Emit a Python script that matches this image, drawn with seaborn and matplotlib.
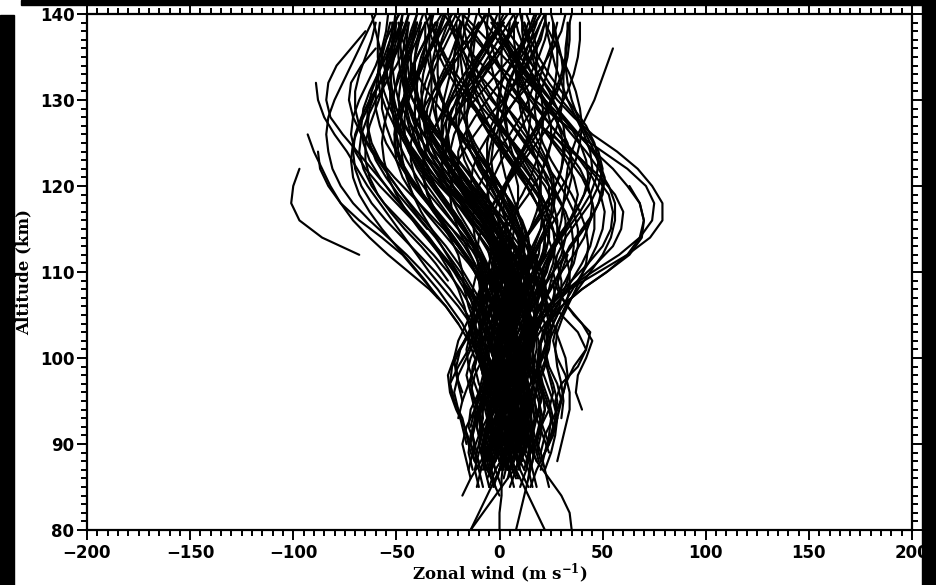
import numpy as np
import pandas as pd
import matplotlib
matplotlib.use("Agg")
import matplotlib.pyplot as plt
import seaborn as sns
from matplotlib.patches import Rectangle

# ---------------- data ----------------
ALT_STEP = 2  # km between samples of each profile
X_TICKS = [-200, -150, -100, -50, 0, 50, 100, 150, 200]
Y_TICKS = [80, 90, 100, 110, 120, 130, 140]

# starting altitude (km) of each zonal-wind profile
PROFILE_START = [
    96, 90, 88, 88, 90, 85, 87, 88, 86, 87,
    94, 85, 112, 104, 100, 104, 100, 100, 98, 96,
    88, 87, 90, 85, 88, 86, 87, 84, 85, 88,
    88, 87, 85, 86, 87, 85, 88, 86, 87, 85,
    86, 87, 88, 85, 80, 80, 80, 80, 80, 84,
    80, 88, 87, 90, 88, 88, 85, 88, 90, 87,
    90, 88, 86, 88,
    87, 85, 89, 87, 91, 85, 87, 89, 85, 87,
    89, 91, 85, 87, 89, 93, 87, 89, 85, 87,
    91, 87, 89, 85, 93, 87, 89, 95, 87, 91,
    85, 89, 107, 109, 115, 111, 117, 105,
    88, 90, 87, 89, 91, 88, 86, 92, 89, 90,
    87, 93, 88, 91, 89,
    89, 87, 90, 88, 86, 91, 87, 89, 92, 88,
    90, 86, 93, 88, 91, 87, 89, 90, 86, 92,
    88, 90, 87, 89, 95, 88, 91, 86, 89, 90,
    90, 88, 92, 89, 87, 91, 88, 90, 93, 89,
    96, 94, 100, 102, 104,
    88, 90, 89, 91, 87, 92, 88, 90, 89, 91,
    93, 88, 90, 87, 92, 89, 91, 88, 90, 94,
]

# zonal wind (m/s) of each profile, every ALT_STEP km from its start
PROFILE_WIND = [
    [8, 10, 12, 15, 19, 26, 34, 48, 62, 73, 79, 79, 74, 67, 57, 45, 36, 28, 22, 16, 12, 9, 7],
    [5, 3, 6, 10, 8, 6, 10, 16, 24, 33, 45, 58, 68, 74, 75, 71, 62, 50, 38, 27, 17, 8, 0, -8, -15, -22],
    [10, 12, 14, 12, 15, 18, 20, 20, 24, 30, 40, 52, 62, 68, 70, 68, 62, 55, 46, 38, 30, 22, 14, 6, -2, -10, -18],
    [0, -3, 2, 8, 12, 14, 13, 17, 22, 30, 40, 52, 63, 69, 70, 68, 63],
    [8, 6, 4, 2, 5, 8, 10, 12, 15, 18, 22, 25, 28, 30, 31, 32, 33, 35, 38, 42, 46, 49, 52, 55],
    [-5, -2, 3, 5, 2, 0, 3, 8, 12, 15, 20, 27, 35, 43, 50, 54, 55, 53, 47, 40, 32, 25, 18, 12, 8, 5, 4, 5],
    [12, 8, 5, 8, 12, 14, 12, 10, 14, 20, 28, 38, 47, 55, 59, 60, 56, 49, 40, 30, 20, 12, 4, -4, -12, -18, -24, -30],
    [-2, 0, 4, 6, 5, 4, 6, 9, 12, 16, 20, 26, 32, 38, 44, 48, 50, 49, 46, 42, 38, 35, 33, 32, 32, 33, 35],
    [6, 3, 0, -2, 0, 4, 8, 10, 8, 8, 11, 14, 18, 23, 28, 34, 39, 43, 45, 44, 41, 37, 33, 30, 27, 25, 23, 22],
    [20, 22, 25, 28, 30, 32, 36, 42, 44, 36, 30, 28, 30, 34, 40, 46, 50, 51, 48, 42, 35, 28, 22, 16, 10, 4, -2, -8],
    [40, 37, 38, 42, 45, 40, 33, 28, 26, 28, 32, 38, 44, 48, 50, 48, 43, 37, 30, 24, 19, 15, 12, 10],
    [15, 18, 22, 26, 28, 27, 30, 38, 42, 38, 30, 24, 20, 22, 26, 32, 36, 38, 36, 32, 26, 20, 14, 8, 2, -4, -10, -16],
    [-68, -86, -97, -101, -100, -97],
    [-20, -26, -34, -44, -54, -63, -71, -77, -82, -86, -90, -93],
    [-5, -8, -14, -20, -27, -34, -40, -46, -52, -58, -64, -69, -74, -80, -85, -88, -89],
    [-8, -12, -17, -22, -28, -34, -41, -48, -55, -62, -69, -76, -82, -84, -83, -79, -72, -65],
    [2, 0, -4, -9, -14, -19, -25, -31, -38, -44, -50, -56, -62, -67, -71, -73, -72, -67, -60],
    [-12, -15, -20, -26, -33, -40, -47, -57, -68, -77, -83, -87, -88],
    [-8, -10, -14, -18, -24, -30, -37, -45, -54, -63, -71, -77, -81, -83, -84, -83, -80, -76, -72, -68, -64, -60],
    [-2, -5, -8, -10, -13, -18, -24, -31, -39, -47, -55, -62, -67, -70, -71, -70, -67, -63, -58, -53, -49, -46, -44],
    [-5, -8, -6, -2, 0, -3, -6, -8, -10, -14, -19, -25, -32, -40, -48, -56, -62, -66, -68, -67, -64, -60, -55, -50, -46, -42, -40],
    [2, 0, -3, -5, -3, 1, 2, 0, -3, -6, -10, -15, -20, -26, -33, -40, -47, -53, -58, -62, -64, -64, -62, -59, -56, -53, -51, -50],
    [-12, -15, -14, -10, -8, -10, -13, -15, -17, -20, -24, -29, -35, -42, -50, -58, -65, -70, -72, -71, -68, -64, -60, -57, -55, -54],
    [-8, -10, -14, -16, -18, -22, -24, -20, -15, -12, -12, -14, -18, -23, -28, -33, -38, -42, -45, -47, -48, -48, -47, -46, -46, -47, -49, -52],
    [-10, -14, -17, -21, -24, -25, -22, -17, -12, -8, -6, -7, -10, -14, -19, -25, -31, -37, -42, -46, -48, -49, -48, -46, -43, -40, -37],
    [4, 6, 5, 2, 0, 2, 5, 6, 4, 2, 0, -2, -5, -9, -14, -20, -26, -32, -38, -43, -47, -50, -52, -54, -56, -58, -60, -62],
    [8, 10, 12, 10, 8, 6, 8, 10, 8, 6, 5, 4, 2, -1, -5, -10, -16, -22, -28, -34, -39, -43, -46, -48, -49, -49, -48, -46],
    [0, -4, -6, -4, 0, 4, 6, 4, 2, 3, 5, 6, 6, 5, 3, 0, -4, -9, -15, -21, -27, -33, -38, -42, -45, -47, -48, -48, -47],
    [-2, -4, -2, 2, 6, 8, 6, 3, 1, 0, -2, -5, -9, -14, -20, -26, -31, -35, -37, -37, -35, -31, -26, -20, -14, -8, -3, 2],
    [10, 12, 8, 4, 2, 4, 8, 12, 14, 12, 8, 4, 0, -5, -11, -17, -23, -28, -32, -34, -34, -32, -28, -23, -17, -11, -6, -2],
    [-12, -10, -8, -10, -14, -16, -14, -10, -6, -4, -6, -10, -16, -22, -28, -33, -36, -37, -36, -33, -29, -25, -22, -20, -20, -22, -25],
    [0, 2, 4, 6, 4, 0, -4, -6, -4, 0, 4, 6, 6, 4, 0, -5, -11, -17, -22, -25, -26, -25, -22, -17, -11, -5, 1, 7],
    [14, 10, 8, 10, 14, 16, 14, 10, 8, 8, 10, 12, 12, 10, 7, 4, 2, 2, 4, 8, 13, 18, 23, 27, 30, 32, 33, 33],
    [-6, -2, 2, 4, 2, -2, -4, -2, 2, 6, 8, 8, 6, 2, -3, -8, -12, -14, -13, -10, -5, 1, 8, 15, 21, 26, 30, 32],
    [4, 0, -4, -6, -4, 0, 4, 6, 4, 0, -4, -8, -12, -16, -20, -23, -24, -23, -20, -15, -9, -2, 5, 11, 16, 20, 22, 23],
    [18, 16, 14, 15, 18, 20, 18, 15, 12, 12, 14, 16, 17, 16, 13, 9, 4, 0, -3, -4, -3, 0, 5, 10, 15, 19, 22, 24],
    [6, 8, 10, 8, 5, 4, 6, 9, 12, 14, 15, 14, 12, 9, 5, 0, -5, -10, -14, -16, -16, -14, -10, -5, 0, 5, 9, 12],
    [-4, -8, -10, -8, -4, -2, -4, -8, -10, -8, -4, 0, 3, 5, 5, 3, 0, -4, -9, -14, -19, -24, -28, -31, -33, -34, -34, -33],
    [8, 4, 2, 4, 8, 10, 10, 8, 6, 6, 8, 10, 12, 12, 10, 6, 1, -5, -11, -17, -22, -26, -29, -30, -30, -28, -25, -21],
    [-10, -12, -10, -6, -4, -6, -10, -12, -10, -6, -2, 2, 4, 4, 2, -2, -8, -14, -20, -26, -31, -35, -38, -40, -41, -41, -40, -38],
    [2, 4, 6, 8, 10, 12, 12, 10, 10, 12, 16, 21, 26, 30, 32, 32, 30, 26, 21, 15, 9, 3, -3, -8, -12, -15, -17, -18],
    [12, 14, 16, 18, 20, 18, 16, 16, 18, 22, 27, 32, 36, 38, 38, 36, 32, 27, 21, 15, 9, 4, 0, -3, -5, -6, -6, -5],
    [20, 18, 20, 24, 26, 24, 22, 24, 28, 32, 34, 34, 32, 28, 23, 18, 13, 9, 6, 4, 3, 3, 5, 8, 11, 14, 17],
    [24, 22, 20, 22, 26, 30, 28, 24, 22, 24, 28, 30, 30, 28, 25, 22, 20, 19, 20, 22, 25, 28, 30, 31, 31, 30, 28, 26],
    [-14, -10, -6, -2, 2, 4, 4, 2, 0, 2, 4, 4, 2, 0, -3, -6, -10, -15, -20, -26, -31, -35, -38, -40, -41, -41, -40, -38, -36, -34, -32],
    [0, 0, 1, 1, 2, 4, 6, 6, 4, 2, 2, 4, 6, 8, 8, 6, 3, 0, -3, -5, -6, -6, -5, -3, -1, 0, 1, 1, 1, 0, 0],
    [22, 18, 14, 10, 6, 4, 6, 10, 12, 10, 6, 4, 6, 10, 14, 18, 22, 24, 24, 22, 18, 12, 5, -2, -9, -16, -22, -27, -31, -34, -36],
    [35, 34, 30, 24, 18, 14, 12, 14, 16, 16, 14, 12, 12, 14, 18, 22, 26, 28, 28, 26, 22, 16, 10, 4, -2, -7, -11, -13, -14, -13, -11],
    [-14, -8, -2, 4, 10, 14, 16, 15, 12, 10, 10, 12, 14, 14, 12, 8, 3, -3, -9, -15, -20, -24, -27, -28, -28, -27, -25, -23, -21, -19, -17],
    [-18, -14, -9, -5, -3, -4, -6, -5, -2, 2, 5, 6, 5, 2, -2, -7, -13, -19, -25, -30, -34, -36, -37, -36, -34, -31, -27, -23, -19],
    [8, 10, 12, 14, 15, 14, 11, 8, 6, 8, 12, 16, 18, 18, 16, 12, 6, 0, -6, -12, -17, -21, -24, -25, -24, -21, -17, -12, -7, -2, 2],
    [0, -2, -4, -6, -8, -6, -3, 0, 2, 2, 0, -4, -9, -15, -21, -27, -33, -39, -44, -48, -51, -53, -53, -52, -50, -47, -44],
    [-6, -8, -6, -2, 2, 4, 2, -2, -6, -8, -8, -8, -10, -13, -17, -22, -28, -34, -40, -46, -51, -55, -58, -59, -58, -55, -51, -46],
    [2, 0, -2, -4, -2, 2, 6, 8, 6, 2, -4, -11, -19, -27, -35, -42, -47, -50, -51, -50, -47, -43, -38, -33, -28, -23],
    [14, 10, 6, 4, 6, 10, 14, 16, 14, 10, 6, 2, -3, -9, -15, -21, -27, -32, -36, -38, -39, -38, -36, -33, -29, -25, -21],
    [-8, -4, 0, 2, 0, -4, -8, -10, -8, -4, 0, 2, 2, 0, -4, -10, -17, -24, -31, -37, -42, -45, -46, -45, -42, -38, -33],
    [16, 14, 10, 6, 6, 8, 12, 16, 18, 18, 15, 11, 6, 1, -3, -6, -7, -6, -3, 1, 6, 11, 16, 20, 23, 25, 26, 26],
    [4, 8, 12, 14, 12, 8, 4, 2, 4, 8, 13, 18, 22, 24, 24, 22, 18, 13, 8, 4, 2, 2, 4, 8, 13, 18, 22],
    [-4, -8, -12, -14, -12, -8, -4, -2, -2, -4, -7, -10, -12, -13, -12, -10, -6, -1, 5, 10, 14, 17, 18, 18, 16, 13],
    [0, 6, 10, 12, 10, 6, 2, 0, 2, 6, 11, 16, 20, 22, 22, 20, 16, 11, 5, -1, -7, -12, -16, -18, -19, -18, -16, -13],
    [-16, -18, -20, -22, -20, -16, -12, -8, -6, -6, -8, -12, -17, -23, -29, -35, -40, -44, -46, -46, -44, -41, -37, -33, -29, -26],
    [20, 24, 26, 24, 20, 18, 20, 24, 26, 24, 20, 14],
    [-14, -16, -18, -16, -12, -8, -6, -8, -12, -14, -12, -8, -4, -2],
    [28, 30, 32, 34, 34, 32, 28, 26, 28, 32, 38, 44, 50, 54, 56, 56, 53, 48, 42, 35, 28, 22, 17, 14, 12, 11, 11],
    # second batch
    [3, 6, 9, 11, 10, 7, 4, 3, 5, 8, 10, 9, 6, 1, -5, -12, -19, -26, -32, -37, -41, -44, -46, -47, -47, -46, -44],
    [-3, 0, 4, 7, 8, 6, 2, -2, -4, -3, 0, 3, 4, 2, -2, -8, -15, -22, -29, -35, -40, -43, -45, -45, -43, -40, -36, -31],
    [12, 15, 17, 16, 13, 10, 9, 11, 14, 16, 15, 12, 7, 1, -6, -13, -20, -26, -31, -35, -37, -38, -37, -35, -32, -28],
    [-9, -12, -13, -11, -7, -3, 0, 1, -1, -4, -7, -10, -14, -19, -25, -31, -37, -43, -48, -52, -55, -57, -57, -56, -54, -51, -47],
    [6, 3, 1, 2, 5, 9, 12, 13, 11, 8, 4, -1, -7, -14, -21, -28, -35, -41, -46, -50, -52, -53, -52, -50, -47],
    [10, 13, 15, 14, 11, 8, 7, 9, 13, 17, 20, 21, 19, 15, 10, 4, -2, -8, -13, -17, -19, -20, -19, -17, -13, -8, -3, 2],
    [-2, -5, -7, -6, -3, 1, 4, 5, 3, 0, -3, -5, -5, -3, 1, 6, 11, 15, 18, 20, 21, 21, 20, 18, 16, 14, 12],
    [18, 20, 21, 19, 16, 14, 15, 18, 21, 23, 22, 19, 15, 10, 5, 0, -4, -6, -6, -4, 0, 5, 10, 15, 19, 22],
    [1, -2, -4, -3, 1, 5, 8, 9, 7, 4, 2, 2, 4, 7, 11, 15, 18, 20, 20, 18, 15, 12, 10, 9, 10, 12, 15, 18],
    [-13, -15, -14, -11, -8, -7, -9, -12, -14, -13, -9, -5, -1, 1, 1, -2, -7, -13, -20, -27, -33, -38, -41, -43, -43, -42, -40],
    [8, 11, 12, 10, 7, 5, 6, 9, 12, 15, 18, 22, 27, 33, 39, 44, 47, 48, 46, 42, 36, 30, 24, 19, 15, 12],
    [25, 27, 28, 26, 23, 22, 24, 28, 33, 38, 43, 47, 50, 51, 49, 45, 39, 32, 25, 19, 14, 10, 8, 7, 7],
    [5, 8, 10, 9, 6, 3, 1, 2, 5, 9, 14, 19, 23, 26, 27, 26, 23, 18, 12, 6, 0, -5, -9, -12, -13, -13, -12, -10],
    [-6, -3, 0, 1, -1, -4, -6, -5, -2, 2, 5, 6, 4, 0, -5, -11, -17, -22, -26, -28, -28, -26, -22, -17, -11, -5, 1],
    [-1, 2, 5, 6, 4, 1, -2, -3, -1, 3, 7, 10, 11, 10, 7, 3, -2, -7, -12, -16, -19, -21, -22, -22, -21, -19],
    [-20, -18, -15, -12, -10, -9, -10, -13, -18, -24, -31, -38, -45, -52, -58, -63, -66, -67, -66, -63, -59, -55, -51, -48],
    [15, 17, 16, 13, 10, 8, 9, 12, 15, 17, 17, 15, 11, 6, 0, -6, -12, -18, -23, -27, -30, -32, -33, -33, -32, -30, -28],
    [-7, -9, -10, -8, -5, -2, 0, 0, -2, -5, -9, -14, -20, -26, -32, -37, -41, -43, -43, -41, -37, -32, -26, -20, -14, -9],
    [7, 5, 2, 0, 1, 4, 8, 11, 12, 11, 8, 5, 2, 0, -1, -1, 0, 2, 5, 9, 14, 19, 24, 28, 31, 33, 34, 34],
    [22, 25, 27, 28, 26, 23, 20, 19, 21, 25, 30, 35, 40, 44, 46, 46, 44, 40, 34, 27, 20, 13, 7, 2, -2, -5, -7],
    [-3, -6, -8, -7, -4, 0, 3, 4, 2, -2, -7, -13, -20, -27, -34, -40, -45, -49, -51, -52, -51, -49, -46, -43, -40],
    [4, 2, 0, 0, 2, 5, 7, 7, 5, 2, -1, -3, -3, -1, 3, 8, 14, 19, 23, 25, 25, 23, 19, 14, 8, 2, -4],
    [11, 9, 7, 7, 9, 12, 14, 14, 12, 9, 6, 3, 0, -4, -9, -15, -21, -27, -32, -36, -39, -40, -40, -38, -35, -31],
    [-11, -9, -7, -7, -9, -12, -14, -13, -10, -6, -3, -2, -3, -6, -10, -15, -20, -24, -27, -28, -27, -24, -19, -13, -7, -1, 4, 8],
    [30, 31, 30, 28, 27, 28, 31, 35, 39, 42, 43, 42, 39, 35, 30, 25, 21, 18, 17, 18, 20, 23, 26, 28],
    [9, 12, 14, 15, 13, 10, 6, 4, 4, 6, 9, 12, 14, 14, 12, 8, 3, -3, -9, -15, -21, -26, -30, -33, -35, -36, -36],
    [-4, -1, 2, 3, 1, -3, -7, -9, -8, -5, -1, 3, 6, 7, 6, 3, -2, -8, -15, -22, -29, -35, -40, -44, -47, -49],
    [-22, -24, -23, -19, -14, -10, -8, -9, -12, -17, -23, -30, -37, -44, -50, -55, -58, -60, -60, -59, -57, -55, -53],
    [0, 3, 6, 8, 8, 6, 3, 1, 1, 3, 6, 9, 11, 12, 11, 9, 6, 3, 1, 0, 0, 2, 5, 9, 13, 17, 20],
    [16, 13, 10, 9, 10, 13, 17, 20, 21, 20, 17, 13, 8, 2, -4, -10, -15, -19, -21, -21, -19, -15, -10, -4, 2],
    [-5, -7, -8, -7, -5, -4, -5, -8, -11, -13, -13, -11, -8, -5, -3, -3, -5, -9, -14, -20, -26, -32, -37, -41, -44, -45, -45, -44],
    [3, 6, 8, 9, 8, 5, 2, 0, 1, 4, 8, 13, 18, 22, 25, 26, 25, 22, 17, 11, 4, -3, -10, -16, -21, -25],
    [-30, -36, -43, -50, -57, -63, -68, -71, -72, -71, -68, -64, -60, -56, -53, -51, -50],
    [-25, -31, -38, -46, -53, -59, -63, -65, -65, -63, -60, -57, -55, -53, -52, -52],
    [-35, -42, -49, -55, -60, -63, -64, -63, -60, -56, -52, -48, -45],
    [5, 10, 16, 22, 28, 33, 37, 39, 40, 39, 37, 34, 30, 26, 22],
    [-5, 0, 6, 12, 18, 24, 29, 33, 36, 38, 39, 39],
    [8, 5, 2, -2, -7, -12, -17, -21, -24, -26, -26, -24, -20, -15, -9, -3, 3, 9],
    # third batch: short profiles inside the dense core
    [2, 5, 8, 7, 3, -1, -3, -1, 3, 6, 8, 7, 4, 0],
    [-6, -3, 0, 2, 1, -2, -5, -6, -4, 0, 4, 7],
    [10, 7, 5, 6, 9, 12, 13, 11, 8, 6, 7, 10, 14],
    [15, 18, 20, 19, 16, 13, 12, 14, 17, 19, 18],
    [-10, -12, -11, -8, -4, -1, 0, -2, -5, -8, -10],
    [6, 9, 11, 13, 12, 9, 6, 4, 5, 8, 12, 16, 19, 20],
    [-3, -5, -4, 0, 4, 7, 8, 6, 3, 1, 2, 5],
    [20, 22, 21, 18, 15, 14, 16, 20, 24, 26],
    [0, -3, -5, -4, -1, 3, 6, 7, 5, 2, -1, -4, -6],
    [12, 14, 13, 10, 7, 5, 6, 9, 13, 16, 18, 18],
    [-8, -6, -3, -1, -2, -5, -8, -10, -9, -6, -2, 1],
    [4, 8, 11, 12, 10, 6, 3, 2, 4, 8],
    [18, 15, 12, 11, 13, 17, 21, 23, 22, 19, 15, 12],
    [-2, 1, 3, 2, -1, -4, -5, -3, 1, 5, 8],
    [8, 5, 2, 1, 3, 7, 10, 11, 9, 6, 4, 5, 8],
    # fourth batch: full-height profiles
    [5, 8, 10, 8, 4, 1, 2, 5, 9, 12, 12, 9, 4, -2, -9, -17, -24, -30, -34, -36, -35, -32, -28, -24, -21, -19],
    [-5, -2, 1, 2, 0, -3, -4, -2, 2, 6, 9, 10, 8, 4, -2, -9, -16, -22, -26, -28, -27, -23, -17, -10, -3, 3, 8],
    [13, 11, 9, 10, 13, 16, 17, 15, 12, 10, 11, 14, 18, 22, 24, 24, 21, 16, 10, 3, -4, -10, -15, -18, -19],
    [0, 3, 5, 4, 1, -2, -3, -1, 3, 7, 9, 8, 5, 0, -6, -13, -20, -27, -34, -40, -45, -49, -51, -52, -52, -51],
    [9, 6, 4, 5, 8, 11, 12, 10, 7, 5, 5, 7, 9, 10, 9, 6, 2, -3, -8, -12, -15, -16, -15, -12, -8, -3, 2, 7],
    [-8, -10, -9, -6, -2, 1, 2, 0, -4, -9, -15, -22, -29, -36, -42, -47, -50, -51, -50, -47, -43, -39, -35, -32, -30],
    [3, 1, -1, -1, 2, 5, 8, 9, 7, 4, 2, 3, 6, 10, 15, 20, 25, 29, 31, 32, 31, 28, 24, 19, 13, 7, 1],
    [20, 17, 15, 16, 19, 22, 23, 21, 17, 14, 13, 15, 19, 24, 29, 33, 35, 35, 33, 29, 24, 18, 12, 6, 1, -3],
    [-14, -12, -9, -7, -7, -9, -12, -15, -17, -18, -20, -24, -29, -35, -41, -46, -49, -50, -49, -46, -42, -38, -34, -30, -27],
    [7, 10, 12, 12, 9, 5, 2, 1, 3, 7, 11, 14, 15, 14, 11, 6, 0, -6, -11, -15, -17, -17, -15, -12, -8, -4, -1],
    [-1, -4, -6, -5, -2, 2, 5, 6, 4, 1, -2, -4, -5, -4, -1, 3, 8, 13, 18, 22, 25, 27, 28, 28, 27, 25],
    [14, 16, 17, 15, 12, 9, 8, 10, 13, 15, 14, 11, 6, 0, -7, -14, -21, -28, -34, -39, -43, -45, -46, -45, -42, -38, -33, -28],
    [26, 24, 21, 19, 19, 22, 26, 30, 33, 35, 36, 35, 32, 27, 21, 14, 7, 0, -6, -11, -15, -18, -20, -21],
    [-4, -7, -9, -8, -5, -1, 2, 3, 1, -3, -7, -10, -11, -10, -7, -3, 2, 7, 11, 14, 15, 14, 11, 7, 2, -4, -10],
    [9, 12, 14, 13, 10, 6, 3, 2, 4, 8, 13, 17, 20, 21, 20, 17, 12, 6, -1, -8, -15, -21, -26, -30, -33],
    [1, 4, 7, 8, 6, 3, 0, -1, 1, 4, 6, 6, 3, -2, -8, -15, -23, -31, -38, -44, -49, -53, -56, -58, -59, -59, -58],
    [-9, -7, -4, -2, -2, -5, -8, -10, -9, -6, -2, 1, 2, 0, -4, -10, -16, -22, -27, -30, -31, -30, -27, -22, -16, -10],
    [17, 20, 22, 21, 18, 15, 14, 16, 20, 25, 29, 31, 30, 27, 22, 16, 10, 5, 1, -1, -1, 1, 5, 10, 15, 20],
    [-1, 1, 3, 3, 1, -2, -4, -3, 0, 4, 7, 8, 6, 2, -3, -9, -14, -18, -20, -20, -17, -12, -6, 0, 6, 11, 15, 18],
    [5, 2, -1, -2, 0, 4, 8, 10, 9, 6, 2, -3, -9, -16, -23, -30, -37, -43, -48, -52, -54, -55, -54, -52, -49],
    [11, 8, 6, 6, 9, 12, 14, 13, 10, 7, 5, 6, 9, 13, 18, 23, 27, 30, 31, 30, 27, 22, 16, 10, 4, -1, -5],
    [-5, -2, 1, 2, 0, -3, -6, -7, -5, -1, 3, 5, 4, 1, -4, -10, -17, -24, -31, -37, -42, -45, -46, -45, -43, -40],
    [6, 8, 9, 8, 6, 4, 4, 6, 9, 12, 14, 14, 12, 8, 3, -3, -10, -17, -24, -30, -35, -39, -41, -42, -41, -39, -36],
    [24, 21, 18, 17, 18, 21, 24, 25, 24, 22, 21, 23, 27, 32, 37, 41, 43, 42, 39, 34, 28, 21, 14, 8, 3, -1],
    [-18, -20, -21, -19, -15, -11, -9, -10, -14, -20, -27, -35, -43, -51, -58, -64, -68, -70, -70, -68, -65, -62, -60],
    [-2, 0, 2, 2, 0, -2, -3, -1, 2, 5, 6, 5, 2, -3, -9, -15, -20, -23, -24, -22, -18, -12, -5, 2, 9, 15, 20],
    [3, 6, 8, 8, 5, 2, 0, 1, 4, 9, 14, 19, 23, 26, 27, 26, 23, 19, 15, 11, 9, 8, 9, 11, 14],
    [8, 5, 3, 3, 6, 9, 11, 11, 8, 4, 1, -1, -1, 1, 4, 7, 9, 9, 7, 3, -2, -8, -14, -20, -25, -29, -32, -34],
    [-11, -13, -12, -9, -5, -2, -1, -3, -7, -12, -18, -25, -32, -39, -45, -50, -54, -56, -57, -56, -54, -51, -48, -45, -42, -40],
    [10, 13, 15, 14, 11, 8, 6, 7, 10, 14, 18, 21, 22, 21, 18, 13, 7, 1, -5, -10, -14, -16, -16, -14, -11, -7],
    # fifth batch: more of the dense core
    [3, 0, -2, -1, 2, 5, 6, 4, 1, -2, -3, -1, 3],
    [14, 16, 15, 12, 9, 8, 10, 13, 15, 14, 11, 8],
    [-4, -6, -7, -5, -2, 1, 2, 0, -3, -5],
    [22, 24, 25, 23, 20, 18, 19, 22, 25, 27, 26],
    [5, 3, 2, 4, 7, 9, 8, 5, 2, 1, 3, 6, 9, 11],
    [9, 12, 14, 13, 10, 7, 6, 8, 11, 13, 12, 9],
    [-12, -14, -13, -10, -6, -3, -2, -4, -7, -9, -8, -5],
    [1, 4, 6, 5, 2, -1, -2, 0, 4, 8, 11, 12, 10],
    [17, 15, 12, 10, 11, 14, 17, 19, 18, 15],
    [-3, -1, 2, 4, 3, 0, -3, -4, -2, 2, 5, 6, 4],
    [-18, -21, -22, -20, -16, -12, -9, -8, -10, -14, -19],
    [28, 31, 33, 32, 29, 26, 25, 27, 30, 33],
    [10, 14, 18, 21, 22, 20, 16, 10, 3, -5, -13, -21, -28],
    [-8, -6, -3, 0, 1, -1, -6, -13, -21, -29, -36, -42, -46, -48],
    [15, 19, 24, 30, 36, 41, 44, 45, 43, 39, 33, 26],
    [-6, -9, -11, -10, -7, -4, -3, -5, -9, -12, -13, -11],
    [11, 9, 7, 8, 11, 14, 15, 13, 10, 8, 9, 12],
    [-1, -3, -4, -2, 1, 4, 5, 3, 0, -2, -1, 2, 5],
    [7, 10, 11, 9, 6, 4, 5, 8, 11, 12, 10],
    [-15, -13, -10, -8, -9, -12, -15, -16, -14, -10, -7],
    [2, -1, -3, -2, 1, 4, 6, 5, 2, -1, -3, -2],
    [19, 17, 14, 13, 15, 18, 20, 19, 16, 13, 12, 14, 18],
    [-7, -4, -1, 0, -2, -5, -7, -6, -3, 0, 2],
    [13, 11, 10, 12, 15, 17, 16, 13, 11, 12, 15, 19, 22],
    [0, 2, 3, 1, -2, -4, -3, 0, 3, 5, 4],
    [-10, -8, -6, -7, -10, -12, -11, -7, -3, 0, 1, -1],
    [6, 4, 3, 5, 8, 10, 9, 6, 3, 2, 4],
    [24, 21, 18, 16, 17, 20, 23, 24, 22, 19, 17, 18],
    [-4, -2, 0, -1, -4, -7, -8, -6, -2, 2, 4, 3],
    [16, 19, 21, 20, 17, 14, 13, 15, 19, 23, 25],
]

# ---------------- build long table ----------------
rows = []
for pid, (z0, winds) in enumerate(zip(PROFILE_START, PROFILE_WIND)):
    for i, u in enumerate(winds):
        rows.append((pid, z0 + ALT_STEP * i, u))
df = pd.DataFrame(rows, columns=["profile", "alt", "wind"])

# ---------------- style ----------------
sns.set_style("ticks")
plt.rcParams["font.family"] = ["DejaVu Sans"]
plt.rcParams["mathtext.fontset"] = "custom"
plt.rcParams["mathtext.rm"] = "DejaVu Serif:bold"
plt.rcParams["mathtext.default"] = "rm"
for key in ["text.color", "axes.labelcolor", "xtick.color", "ytick.color",
            "xtick.labelcolor", "ytick.labelcolor", "axes.edgecolor"]:
    plt.rcParams[key] = "black"

fig = plt.figure(figsize=(9.36, 5.85), dpi=100)
fig.patch.set_facecolor("white")
ax = fig.add_axes([87 / 936, 1 - 530 / 585, (912 - 87) / 936, (530 - 14) / 585])

sns.lineplot(data=df, x="wind", y="alt", units="profile", estimator=None,
             sort=False, color="black", linewidth=1.55, ax=ax, legend=False)

ax.set_xlim(-200, 200)
ax.set_ylim(80, 140)
ax.set_xticks(X_TICKS)
ax.set_yticks(Y_TICKS)
ax.set_xticklabels([f"{v:d}".replace("-", "\u2212") for v in X_TICKS])
ax.set_yticklabels([str(v) for v in Y_TICKS])
ax.xaxis.set_minor_locator(matplotlib.ticker.MultipleLocator(5))
ax.yaxis.set_minor_locator(matplotlib.ticker.MultipleLocator(1))

ax.tick_params(which="both", direction="out", top=True, right=True,
               labeltop=False, labelright=False, width=1.4, color="black",
               labelcolor="black")
ax.tick_params(which="major", length=7)
ax.tick_params(which="minor", length=4.5)
for lab in ax.get_xticklabels() + ax.get_yticklabels():
    lab.set_fontweight("bold")
    lab.set_fontsize(12)
    lab.set_family("DejaVu Sans")
ax.tick_params(axis="x", pad=3)
ax.tick_params(axis="y", pad=2)

for sp in ax.spines.values():
    sp.set_visible(True)
    sp.set_linewidth(1.6)
    sp.set_color("black")

ax.set_xlabel("Zonal wind (m s$^{-1}$)", family="DejaVu Serif",
              fontweight="bold", fontsize=12)
ax.set_ylabel("Altitude (km)", family="DejaVu Serif",
              fontweight="bold", fontsize=12)
ax.xaxis.set_label_coords(0.5, -0.062)
ax.yaxis.set_label_coords(-0.066, 0.5)

# black borders of the scanned frame
fig.patches.append(Rectangle((0, 0), 14 / 936, 1 - 15 / 585, transform=fig.transFigure,
                             color="black", zorder=10))
fig.patches.append(Rectangle((21 / 936, 1 - 5 / 585), 1, 5 / 585, transform=fig.transFigure,
                             color="black", zorder=10))
fig.patches.append(Rectangle((922 / 936, 0), 14 / 936, 1, transform=fig.transFigure,
                             color="black", zorder=10))

fig.savefig("out.png", dpi=100, facecolor="white")
